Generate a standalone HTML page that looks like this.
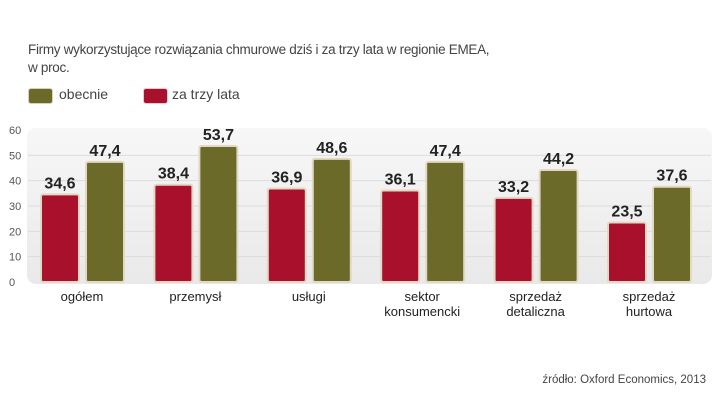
<!DOCTYPE html>
<html><head><meta charset="utf-8"><style>
body{margin:0;width:720px;height:405px;background:#fff;font-family:"Liberation Sans",sans-serif;overflow:hidden;position:relative}
.t{position:absolute;color:#444}
</style></head><body>
<div class="t" style="left:28px;top:41px;font-size:13.5px;line-height:18px;color:#444;letter-spacing:-0.3px">Firmy wykorzystujące rozwiązania chmurowe dziś i za trzy lata w regionie EMEA,<br>w proc.</div>
<div style="position:absolute;left:28px;top:88px;height:16px">
<span style="position:absolute;left:0;top:0;width:23px;height:14px;background:#6b6a28;border:1px solid #d8d0b8;border-radius:3px"></span>
<span class="t" style="left:31px;top:-2px;font-size:14px">obecnie</span></div>
<div style="position:absolute;left:143px;top:88px;height:16px">
<span style="position:absolute;left:0;top:0;width:23px;height:14px;background:#a8102c;border:1px solid #e8c8c8;border-radius:3px"></span>
<span class="t" style="left:29px;top:-2px;font-size:14px;white-space:nowrap">za trzy lata</span></div>
<svg id="c" width="720" height="405" style="position:absolute;left:0;top:0">
<defs><linearGradient id="bg" x1="0" y1="0" x2="0" y2="1"><stop offset="0" stop-color="#f7f7f7"/><stop offset="1" stop-color="#e9e9e9"/></linearGradient></defs>
<rect x="27" y="128" width="685" height="156" rx="9" fill="url(#bg)"/>
</svg>
<div class="t" style="right:14px;top:374px;font-size:11.5px;color:#444">źródło: Oxford Economics, 2013</div>
<script>
const categories=[["ogółem"],["przemysł"],["usługi"],["sektor","konsumencki"],["sprzedaż","detaliczna"],["sprzedaż","hurtowa"]];
const future=[34.6,38.4,36.9,36.1,33.2,23.5];
const current=[47.4,53.7,48.6,47.4,44.2,37.6];
const ticks=[0,10,20,30,40,50,60];
const svg=document.getElementById('c');const NS='http://www.w3.org/2000/svg';
const y=v=>282-v*152/60;
const x0=i=>41+113.4*i;
function mk(t,a,txt){const e=document.createElementNS(NS,t);for(const k in a)e.setAttribute(k,a[k]);if(txt!=null)e.textContent=txt;svg.appendChild(e);return e;}
ticks.forEach(t=>{
 if(t>0&&t<60){const g=mk('line',{x1:28,x2:711,y1:y(t),y2:y(t),stroke:'#dcdcdc','stroke-width':1});
 
 }
 const l=mk('text',{x:9,y:y(t)+4,'font-size':11,fill:'#555','font-family':'Liberation Sans'},String(t));
 
 
});
function bar(x,v,col,name){
 const r=mk('rect',{x:x,y:y(v),width:38,height:282-y(v),rx:2,fill:col,stroke:'#e2d9c4','stroke-width':2});
 
 
 const t=mk('text',{x:x+19,y:y(v)-6,'text-anchor':'middle','font-size':16,'font-weight':'bold',fill:'#222','font-family':'Liberation Sans Narrow, Liberation Sans'},v.toFixed(1).replace('.',','));
 
 
}
categories.forEach((c,i)=>{
 bar(x0(i),future[i],'#a8102c','bar-future-'+i);
 bar(x0(i)+45,current[i],'#6b6a28','bar-current-'+i);
 c.forEach((ln,j)=>{const t=mk('text',{x:x0(i)+41,y:301+j*15,'text-anchor':'middle','font-size':13,fill:'#222','font-family':'Liberation Sans'},ln);
 
 });
});
</script>
</body></html>
